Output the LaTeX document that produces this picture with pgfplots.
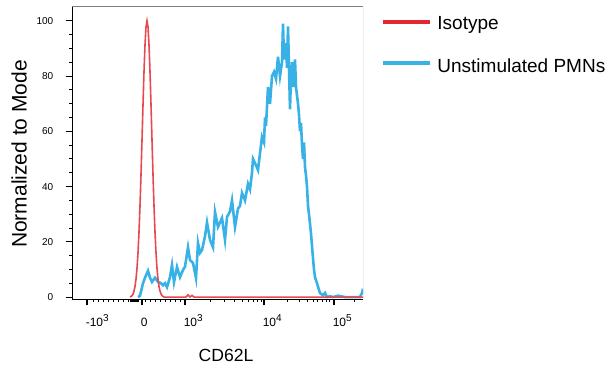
\documentclass[border=0pt]{standalone}
\usepackage{fontspec}
\setmainfont{Liberation Sans}
\usepackage{pgfplots}
\pgfplotsset{compat=1.18}
\definecolor{isored}{RGB}{228,40,48}
\definecolor{pmnblue}{RGB}{56,178,230}
\begin{document}
\begin{tikzpicture}[x=1pt,y=1pt]
\begin{axis}[
  at={(36pt,35.5pt)}, anchor=south west,
  scale only axis, width=145.5pt, height=146pt,
  xmin=72, xmax=363, ymin=-0.7, ymax=105,
  axis lines*=left,
  x axis line style={-, black, line width=0.5pt},
  y axis line style={-, black, line width=0.5pt},
  tick align=outside,
  major tick length=3.2pt, minor tick length=1.5pt,
  tick style={black, line width=0.5pt},
  major x tick style={line width=0.8pt},
  xtick={87,142,185,264,334},
  xticklabels={-10\textsuperscript{3},0,10\textsuperscript{3},10\textsuperscript{4},10\textsuperscript{5}},
  minor xtick={93,98,103,108,113,118,123,128,130,131,132,133,134,135,136,137,138,145,150,155,160,165,170,175,180,210,224,234,242,248,253,257,261,287,299,307,313,317,322,326,329,354},
  ytick={0,20,40,60,80,100},
  minor ytick={5,10,15,25,30,35,45,50,55,65,70,75,85,90,95},
  /pgf/number format/assume math mode=true,
  xticklabel style={font=\fontsize{6}{7}\selectfont, anchor=base west, inner sep=0pt, xshift=-0.8pt, yshift=-10.5pt},
  yticklabel style={font=\fontsize{5}{6}\selectfont, inner sep=0pt, xshift=-6pt},
]
\addplot[pmnblue, line width=1.3pt] coordinates {
(138,0) (140,0.5) (143,5) (145,7) (148,9.5) (150,7) (152,5.5) (155,7) (158,5.5)
(161,5) (163,4.3) (165,5) (167,3.6) (170,7.2) (172,11.6) (174,5.4) (177,10.9)
(180,7.2) (183,9.8) (185,11) (188,18) (190,13.4) (193,12.3) (196,6.9) (198,19.6)
(200,16) (202,17) (205,22) (207,27) (210,20.7) (213,18) (215,30.8) (218,25.4)
(220,27) (222,28.6) (225,20.7) (227,29) (230,31) (232,35) (235,25.4) (238,32)
(240,33) (242,37.7) (245,35) (248,41) (250,39) (252,45) (253,50) (255,48.5)
(258,46) (260,52) (262,58) (264,56) (265,65) (266,62) (268,76) (270,70) (272,80)
(274,81.5) (276,79) (277,83) (278,87) (280,80) (282,85) (283,99) (284,86)
(286,92) (287,83) (288,98) (290,68) (291,80) (292,85) (293,76) (295,86) (296,76)
(298,70) (299,66) (300,60) (301,63) (302,55) (303,50) (304,56) (305,47) (306,44)
(307,40) (308,33) (309,30) (311,23) (313,14) (314,10) (315,7.2) (317,5) (320,1.4)
(323,0.7) (325,1.5) (327,0) (330,0.3) (333,0) (338,0.5) (345,0) (353,0) (360,0)
(362,1.5) (363,3)
};
\addplot[isored!85!white, line width=0.8pt] coordinates {
(130,0) (132,0.5) (133,1) (134,2.2) (135,3.8) (136,6.5) (137,10.4) (138,16)
(139,23.5) (140,33) (141,44.3) (142,56.8) (143,69.6) (144,81.6) (145,91.3)
(146,97.8) (147,100) (148,97.8) (149,91.3) (150,81.6) (151,69.6) (152,56.8)
(153,44.3) (154,33) (155,23.5) (156,16) (157,10.4) (158,6.5) (159,3.8) (160,2.2)
(161,1.2) (162,0.5) (164,0) (186,0) (188,0.8) (190,0) (192,0.6) (194,0) (363,0)
};
\draw[black!50, line width=0.5pt] (rel axis cs:0,1) -- (rel axis cs:1,1) -- (rel axis cs:1,0);
\end{axis}
\node[rotate=90, inner sep=0pt, font=\fontsize{10.5}{12}\selectfont] at (9.5pt,108pt) {Normalized to Mode};
\node[anchor=base, inner sep=0pt, font=\fontsize{8.8}{10}\selectfont] at (113pt,4.5pt) {CD62L};
\draw[isored, line width=1.6pt] (191.5pt,174pt) -- (215pt,174pt);
\node[anchor=base west, inner sep=0pt, font=\fontsize{9.5}{11}\selectfont] at (218.5pt,170pt) {Isotype};
\draw[pmnblue, line width=1.6pt] (191.5pt,153.5pt) -- (215pt,153.5pt);
\node[anchor=base west, inner sep=0pt, font=\fontsize{9.5}{11}\selectfont] at (218.5pt,148.5pt) {Unstimulated PMNs};
\pgfresetboundingbox
\path[use as bounding box] (0,0) rectangle (306.5pt,185pt);
\end{tikzpicture}
\end{document}
